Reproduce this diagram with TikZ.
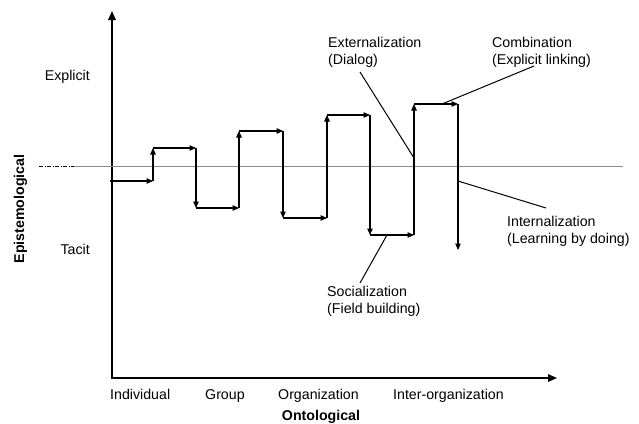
\documentclass[tikz,border=0pt]{standalone}
\usepackage{fontspec}
\setmainfont{Liberation Sans}
\usetikzlibrary{arrows.meta}
\begin{document}
\begin{tikzpicture}[x=1pt,y=-1pt,
  lbl/.style={inner sep=0pt, anchor=base west, font=\fontsize{14.2}{17}\selectfont},
  lblr/.style={inner sep=0pt, anchor=base east, font=\fontsize{14.2}{17}\selectfont},
  lblc/.style={inner sep=0pt, anchor=base, font=\fontsize{14.2}{17}\selectfont},
  axis/.style={line width=1.6pt, -{Triangle[length=9pt,width=7.5pt]}},
  stp/.style={line width=1.1pt, -{Triangle[length=6.5pt,width=5.5pt]}},
  lead/.style={line width=1pt}]
\useasboundingbox (0,0) rectangle (639,423);
% axes
\coordinate (O) at (112,378);
\coordinate (ytop) at (112,11);
\coordinate (xend) at (557,378);
\draw[axis] (O) -- (ytop);
\draw[axis] ([xshift=-0.8pt]O) -- (xend);
% reference line
\coordinate (d0) at (39,166.5);
\coordinate (d1) at (74,166.5);
\coordinate (d2) at (623,166.5);
\draw[line width=0.6pt, dash pattern=on 4pt off 1.5pt on 1pt off 1.5pt] (d0) -- (d1);
\draw[black!45, line width=0.45pt, dash pattern=on 1.5pt off 0.5pt] (d1) -- (d2);
% steps
\coordinate (s0) at (110,181);
\coordinate (s1) at (153,181);
\coordinate (s2) at (153,148);
\coordinate (s3) at (196,148);
\coordinate (s4) at (196,208);
\coordinate (s5) at (239,208);
\coordinate (s6) at (239,131);
\coordinate (s7) at (283,131);
\coordinate (s8) at (283,218);
\coordinate (s9) at (327,218);
\coordinate (s10) at (327,115);
\coordinate (s11) at (370,115);
\coordinate (s12) at (370,235);
\coordinate (s13) at (414,235);
\coordinate (s14) at (414,104);
\coordinate (s15) at (458,104);
\coordinate (s16) at (458,250);
\foreach \a/\b in {s0/s1,s1/s2,s2/s3,s3/s4,s4/s5,s5/s6,s6/s7,s7/s8,s8/s9,s9/s10,s10/s11,s11/s12,s12/s13,s13/s14,s14/s15,s15/s16}
  \draw[stp] (\a) -- (\b);
% leader lines
\coordinate (e0) at (360,72);  \coordinate (e1) at (414,158);
\coordinate (c0) at (534,66);  \coordinate (c1) at (442,104);
\coordinate (i0) at (458,181); \coordinate (i1) at (546,208);
\coordinate (so0) at (387,235); \coordinate (so1) at (360,283);
\draw[lead] (e0) -- (e1);
\draw[lead] (c0) -- (c1);
\draw[lead] (i0) -- (i1);
\draw[lead] (so0) -- (so1);
% texts
\node[lblr] (explicit) at (90,80) {Explicit};
\node[lblr] (tacit) at (90,254) {Tacit};
\node[inner sep=0pt, rotate=90, font=\fontsize{14.2}{17}\selectfont\bfseries] (epi) at (20.5,209) {Epistemological};
\node[lbl] (ind) at (110,399) {Individual};
\node[lbl] (grp) at (205,399) {Group};
\node[lbl] (org) at (278,399) {Organization};
\node[lbl] (inter) at (393,399) {Inter-organization};
\node[lblc, font=\fontsize{14.2}{17}\selectfont\bfseries] (onto) at (321,420.5) {Ontological};
\node[lbl] (ext1) at (328,47) {Externalization};
\node[lbl] (ext2) at (328,64) {(Dialog)};
\node[lbl] (com1) at (492,47) {Combination};
\node[lbl] (com2) at (492,64) {(Explicit linking)};
\node[lbl] (int1) at (507,226) {Internalization};
\node[lbl] (int2) at (507,243) {(Learning by doing)};
\node[lbl] (soc1) at (327,296) {Socialization};
\node[lbl] (soc2) at (327,313) {(Field building)};
\end{tikzpicture}
\end{document}
